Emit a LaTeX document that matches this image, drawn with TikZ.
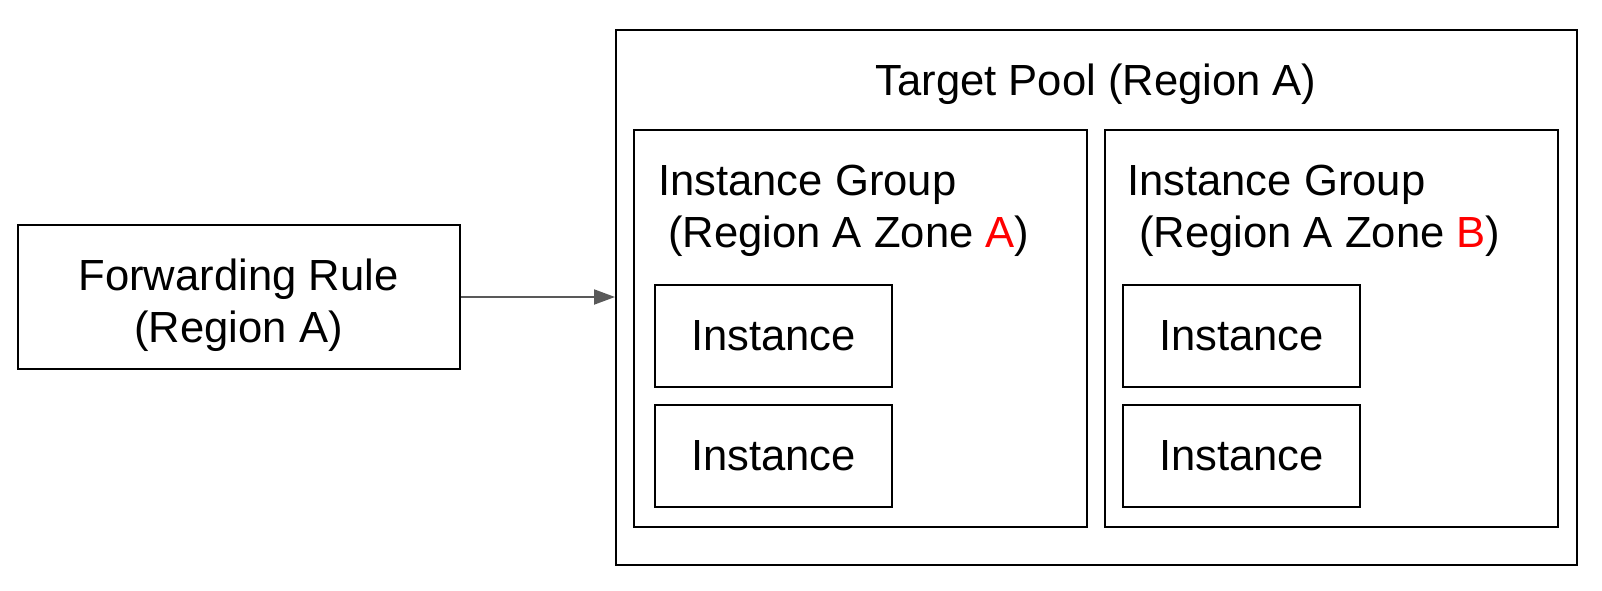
\documentclass[tikz,border=0pt]{standalone}
\usepackage{fontspec}
\setmainfont{Liberation Sans}
\usetikzlibrary{arrows.meta}
\definecolor{arrowgray}{HTML}{595959}
\definecolor{zonered}{HTML}{FF0000}
\begin{document}
\begin{tikzpicture}[x=1pt,y=-1pt,
  box/.style={draw=black,line width=2pt,rectangle,inner sep=0pt,anchor=north west},
  lbl/.style={inner sep=0pt,font=\fontsize{43.6}{52}\selectfont},
  conn/.style={draw=arrowgray,line width=2pt,-{Triangle[length=21pt,width=15pt]}}]
\useasboundingbox (0,0) rectangle (1602,590);
% forwarding rule
\node[box,minimum width=442pt,minimum height=144pt] (fr) at (17,224) {};
\node[lbl,anchor=base] (frt1) at (238.5,290) {Forwarding Rule};
\node[lbl,anchor=base] (frt2) at (238.5,342) {(Region A)};
% target pool
\node[box,minimum width=961pt,minimum height=535pt] (tp) at (615,29) {};
\node[lbl,anchor=base] (tpt) at (1096,95) {Target Pool (Region A)};
% instance groups
\node[box,minimum width=453pt,minimum height=397pt] (iga) at (633,129) {};
\node[box,minimum width=453pt,minimum height=397pt] (igb) at (1104,129) {};
\node[lbl,anchor=base west] (igat1) at (658,195) {Instance Group};
\node[lbl,anchor=base west] (igat2) at (668,247) {(Region A Zone \textcolor{zonered}{A})};
\node[lbl,anchor=base west] (igbt1) at (1127,195) {Instance Group};
\node[lbl,anchor=base west] (igbt2) at (1139,247) {(Region A Zone \textcolor{zonered}{B})};
% instances
\node[box,minimum width=237pt,minimum height=102pt] (ia1) at (654,284) {};
\node[box,minimum width=237pt,minimum height=102pt] (ia2) at (654,404) {};
\node[box,minimum width=237pt,minimum height=102pt] (ib1) at (1122,284) {};
\node[box,minimum width=237pt,minimum height=102pt] (ib2) at (1122,404) {};
\foreach \n in {ia1,ia2,ib1,ib2}{
  \node[lbl] (\n t) at (\n.center) {Instance};
}
% connector
\draw[conn] (fr.east) -- (fr.east -| tp.west);
\end{tikzpicture}
\end{document}
